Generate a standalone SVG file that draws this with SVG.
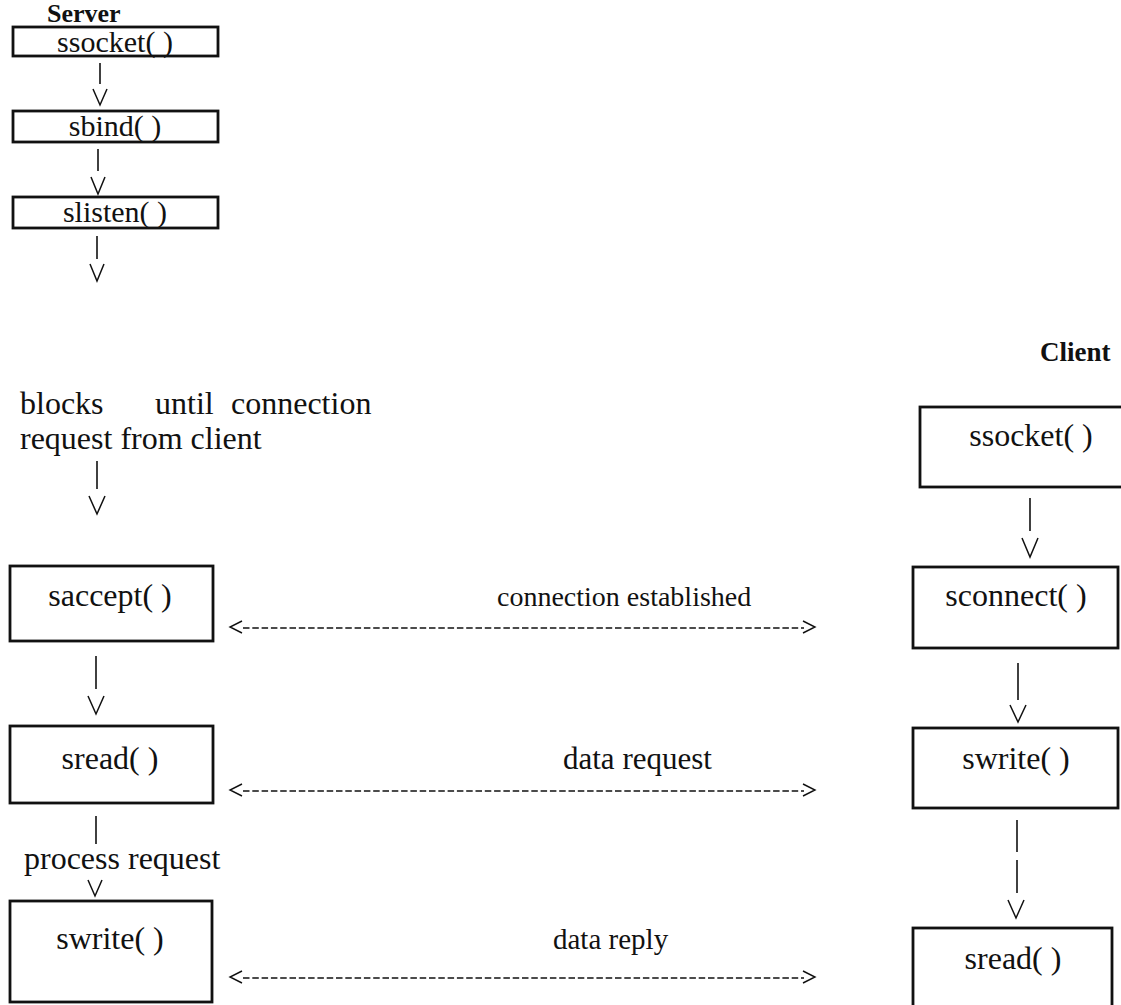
<svg xmlns="http://www.w3.org/2000/svg" width="1121" height="1005" viewBox="0 0 1121 1005">
  <style>
    .box { fill: #ffffff; stroke: #111111; stroke-width: 2.8; }
    .lbl { font-family: "Liberation Serif", "Times New Roman", serif; font-size: 32px; fill: #111111; }
    .small { font-size: 30px; }
    .msg { font-family: "Liberation Serif", "Times New Roman", serif; font-size: 29px; fill: #111111; }
    .mid { text-anchor: middle; }
    .head { font-family: "Liberation Serif", "Times New Roman", serif; font-size: 26px; font-weight: bold; fill: #111111; }
    .bar { stroke: #111111; stroke-width: 1.6; fill: none; }
    .vee { stroke: #111111; stroke-width: 1.5; fill: none; stroke-linejoin: miter; }
    .dash { stroke: #111111; stroke-width: 1.3; fill: none; stroke-dasharray: 6.5 2.8; }
    .chev { stroke: #111111; stroke-width: 1.4; fill: none; }
  </style>
  <rect width="1121" height="1005" fill="#ffffff"/>

  <!-- Server side -->
  <text class="head" x="47" y="22">Server</text>
  <g id="srv-socket"><rect class="box" x="13" y="27" width="205" height="29"/><text class="lbl small mid" x="115" y="52">ssocket( )</text></g>
  <g id="srv-bind"><rect class="box" x="13" y="111" width="205" height="31"/><text class="lbl small mid" x="115" y="136">sbind( )</text></g>
  <g id="srv-listen"><rect class="box" x="13" y="197" width="205" height="31"/><text class="lbl small mid" x="115" y="222">slisten( )</text></g>
  <g id="srv-block">
    <text class="lbl" y="414"><tspan x="20">blocks</tspan><tspan x="155">until</tspan><tspan x="231">connection</tspan></text>
    <text class="lbl" x="20" y="449">request from client</text>
  </g>
  <g id="srv-accept"><rect class="box" x="10" y="566" width="203" height="75"/><text class="lbl mid" x="110" y="606">saccept( )</text></g>
  <g id="srv-read"><rect class="box" x="10" y="726" width="203" height="77"/><text class="lbl mid" x="110" y="769">sread( )</text></g>
  <g id="srv-process"><text class="lbl" x="24" y="869">process request</text></g>
  <g id="srv-write"><rect class="box" x="10" y="901" width="202" height="101"/><text class="lbl mid" x="110" y="949">swrite( )</text></g>

  <!-- Client side -->
  <text class="head" x="1040" y="361" style="font-size:27px">Client</text>
  <g id="cli-socket"><rect class="box" x="920" y="407" width="210" height="80"/><text class="lbl mid" x="1031" y="446">ssocket( )</text></g>
  <g id="cli-connect"><rect class="box" x="913" y="567" width="205" height="81"/><text class="lbl mid" x="1016" y="606">sconnect( )</text></g>
  <g id="cli-write"><rect class="box" x="913" y="728" width="205" height="80"/><text class="lbl mid" x="1016" y="769">swrite( )</text></g>
  <g id="cli-read"><rect class="box" x="913" y="928" width="199" height="90"/><text class="lbl mid" x="1013" y="969">sread( )</text></g>

  <!-- Exchange labels -->
  <g id="msg-labels">
    <text class="msg" x="497" y="606" style="font-size:28px">connection established</text>
    <text class="msg" x="563" y="769" style="font-size:31px">data request</text>
    <text class="msg" x="553" y="949">data reply</text>
  </g>

  <!-- Connectors -->
  <g id="connectors">
    <line class="bar" x1="100" y1="63" x2="100" y2="84"/>
    <polyline class="vee" points="93,89 100,105 107,89"/>
    <line class="bar" x1="98" y1="149" x2="98" y2="171"/>
    <polyline class="vee" points="91,177 98,194 105,177"/>
    <line class="bar" x1="97" y1="236" x2="97" y2="259"/>
    <polyline class="vee" points="90,264 97,281 104,264"/>
    <line class="bar" x1="97" y1="461" x2="97" y2="489"/>
    <polyline class="vee" points="89,496 97,514 105,496"/>
    <line class="bar" x1="96" y1="656" x2="96" y2="689"/>
    <polyline class="vee" points="88,696 96,714 104,696"/>
    <line class="bar" x1="96" y1="816" x2="96" y2="844"/>
    <polyline class="vee" points="88,880 95,896 102,880"/>

    <line class="bar" x1="1030" y1="498" x2="1030" y2="531"/>
    <polyline class="vee" points="1022,538 1030,557 1038,538"/>
    <line class="bar" x1="1018" y1="663" x2="1018" y2="700"/>
    <polyline class="vee" points="1010,705 1018,722 1026,705"/>
    <line class="bar" x1="1017" y1="820" x2="1017" y2="852"/>
    <line class="bar" x1="1017" y1="860" x2="1017" y2="893"/>
    <polyline class="vee" points="1008,900 1016,918 1024,900"/>

    <polyline class="chev" points="242,621 230,627 242,633"/>
    <line class="dash" x1="243" y1="628" x2="804" y2="628"/>
    <polyline class="chev" points="803,621 815,627 803,633"/>

    <polyline class="chev" points="242,784 230,790 242,796"/>
    <line class="dash" x1="243" y1="791" x2="804" y2="791"/>
    <polyline class="chev" points="803,784 815,790 803,796"/>

    <polyline class="chev" points="242,971 230,977 242,983"/>
    <line class="dash" x1="243" y1="978" x2="804" y2="978"/>
    <polyline class="chev" points="803,971 815,977 803,983"/>
  </g>
</svg>
